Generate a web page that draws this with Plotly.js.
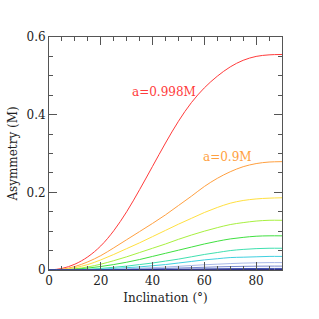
<!DOCTYPE html>
<html>
<head>
<meta charset="utf-8">
<script src="https://cdn.plot.ly/plotly-3.0.1.min.js"></script>
<style>html,body{margin:0;padding:0;background:#fff;}#chart{width:319px;height:319px;}</style>
</head>
<body>
<div id="chart"></div>
<script>
const inclination = [0,5,10,15,20,25,30,35,40,45,50,55,60,65,70,75,80,85,90];
const spins = ["a=0.998M","a=0.9M","c3","c4","c5","c6","c7","c8","c9","c10","c11"];
const s_red    = [0,0.004,0.015,0.034,0.062,0.101,0.150,0.207,0.267,0.327,0.383,0.431,0.469,0.499,0.523,0.540,0.550,0.554,0.555];
const s_orange = [0,0.002,0.009,0.021,0.037,0.057,0.078,0.099,0.120,0.142,0.166,0.190,0.215,0.236,0.253,0.266,0.274,0.278,0.279];
const s_yellow = [0,0.001,0.006,0.014,0.026,0.040,0.055,0.070,0.086,0.102,0.118,0.133,0.148,0.161,0.172,0.179,0.183,0.185,0.186];
const s_lime   = [0,0.0005,0.003,0.008,0.015,0.024,0.034,0.045,0.056,0.067,0.079,0.090,0.100,0.109,0.117,0.122,0.126,0.128,0.128];
const s_green  = [0,0,0.002,0.005,0.009,0.014,0.020,0.027,0.035,0.043,0.051,0.059,0.067,0.074,0.080,0.084,0.087,0.088,0.088];
const s_teal   = [0,0,0.001,0.002,0.004,0.007,0.010,0.014,0.018,0.023,0.028,0.034,0.040,0.045,0.050,0.053,0.055,0.056,0.056];
const s_cyan   = [0,0,0.0005,0.001,0.002,0.004,0.006,0.008,0.011,0.014,0.018,0.022,0.026,0.029,0.032,0.033,0.034,0.035,0.035];
const s_blue1  = [0,0,0.0003,0.0006,0.001,0.002,0.003,0.0045,0.006,0.0075,0.0095,0.0115,0.0135,0.015,0.0165,0.0178,0.0185,0.019,0.019];
const s_blue2  = [0,0,0,0.0003,0.0006,0.001,0.0016,0.0024,0.0032,0.004,0.005,0.006,0.007,0.008,0.0088,0.0094,0.0098,0.01,0.01];
const s_blue3  = [0,0,0,0,0.0002,0.0004,0.0006,0.001,0.0013,0.0017,0.002,0.0024,0.0028,0.0032,0.0035,0.0037,0.0039,0.004,0.004];
const s_navy   = [0,0,0,0,0,0,0.0001,0.0002,0.0003,0.0004,0.0005,0.0006,0.0007,0.0008,0.0009,0.001,0.001,0.001,0.001];
const seriesList = [s_red,s_orange,s_yellow,s_lime,s_green,s_teal,s_cyan,s_blue1,s_blue2,s_blue3,s_navy];
const colors = ["#ff3b3b","#ffa040","#ffe040","#a8f040","#40e040","#40e0b0","#40d0e0","#a8b8e8","#7888d0","#4050b0","#181870"];

const traces = seriesList.map((s,i)=>({
  x: inclination, y: s, type:'scatter', mode:'lines',
  line:{color:colors[i], width:1, shape:'spline', smoothing:1}, name:spins[i], hoverinfo:'skip'
}));

const fnt = {family:'"DejaVu Serif", serif', size:12, color:'#222'};
const axisCommon = {
  showgrid:false, zeroline:false, showline:true, linecolor:'#555', linewidth:1,
  mirror:'allticks', ticks:'inside', ticklen:8, tickcolor:'#555', tickwidth:1,
  tickfont:fnt
};
const layout = {
  width:319, height:319, showlegend:false,
  margin:{l:49, r:37, t:37, b:49},
  paper_bgcolor:'#fff', plot_bgcolor:'#fff',
  font:fnt,
  xaxis:Object.assign({}, axisCommon, {range:[0,90], dtick:20, tick0:0,
    minor:{ticks:'inside', ticklen:4, dtick:5, tickcolor:'#555'},
    title:{text:'Inclination (°)', font:fnt, standoff:6}}),
  yaxis:Object.assign({}, axisCommon, {range:[0,0.6], dtick:0.2, tick0:0,
    minor:{ticks:'inside', ticklen:4, dtick:0.05, tickcolor:'#555'},
    title:{text:'Asymmetry (M)', font:fnt, standoff:6}}),
  annotations:[
    {x:44.4, y:0.458, xref:'x', yref:'y', text:spins[0], showarrow:false, font:{family:fnt.family, size:12, color:'#ff3b3b'}},
    {x:68.8, y:0.290, xref:'x', yref:'y', text:spins[1], showarrow:false, font:{family:fnt.family, size:12, color:'#ffa040'}}
  ]
};
Plotly.newPlot('chart', traces, layout, {staticPlot:true, displayModeBar:false});
</script>
</body>
</html>
